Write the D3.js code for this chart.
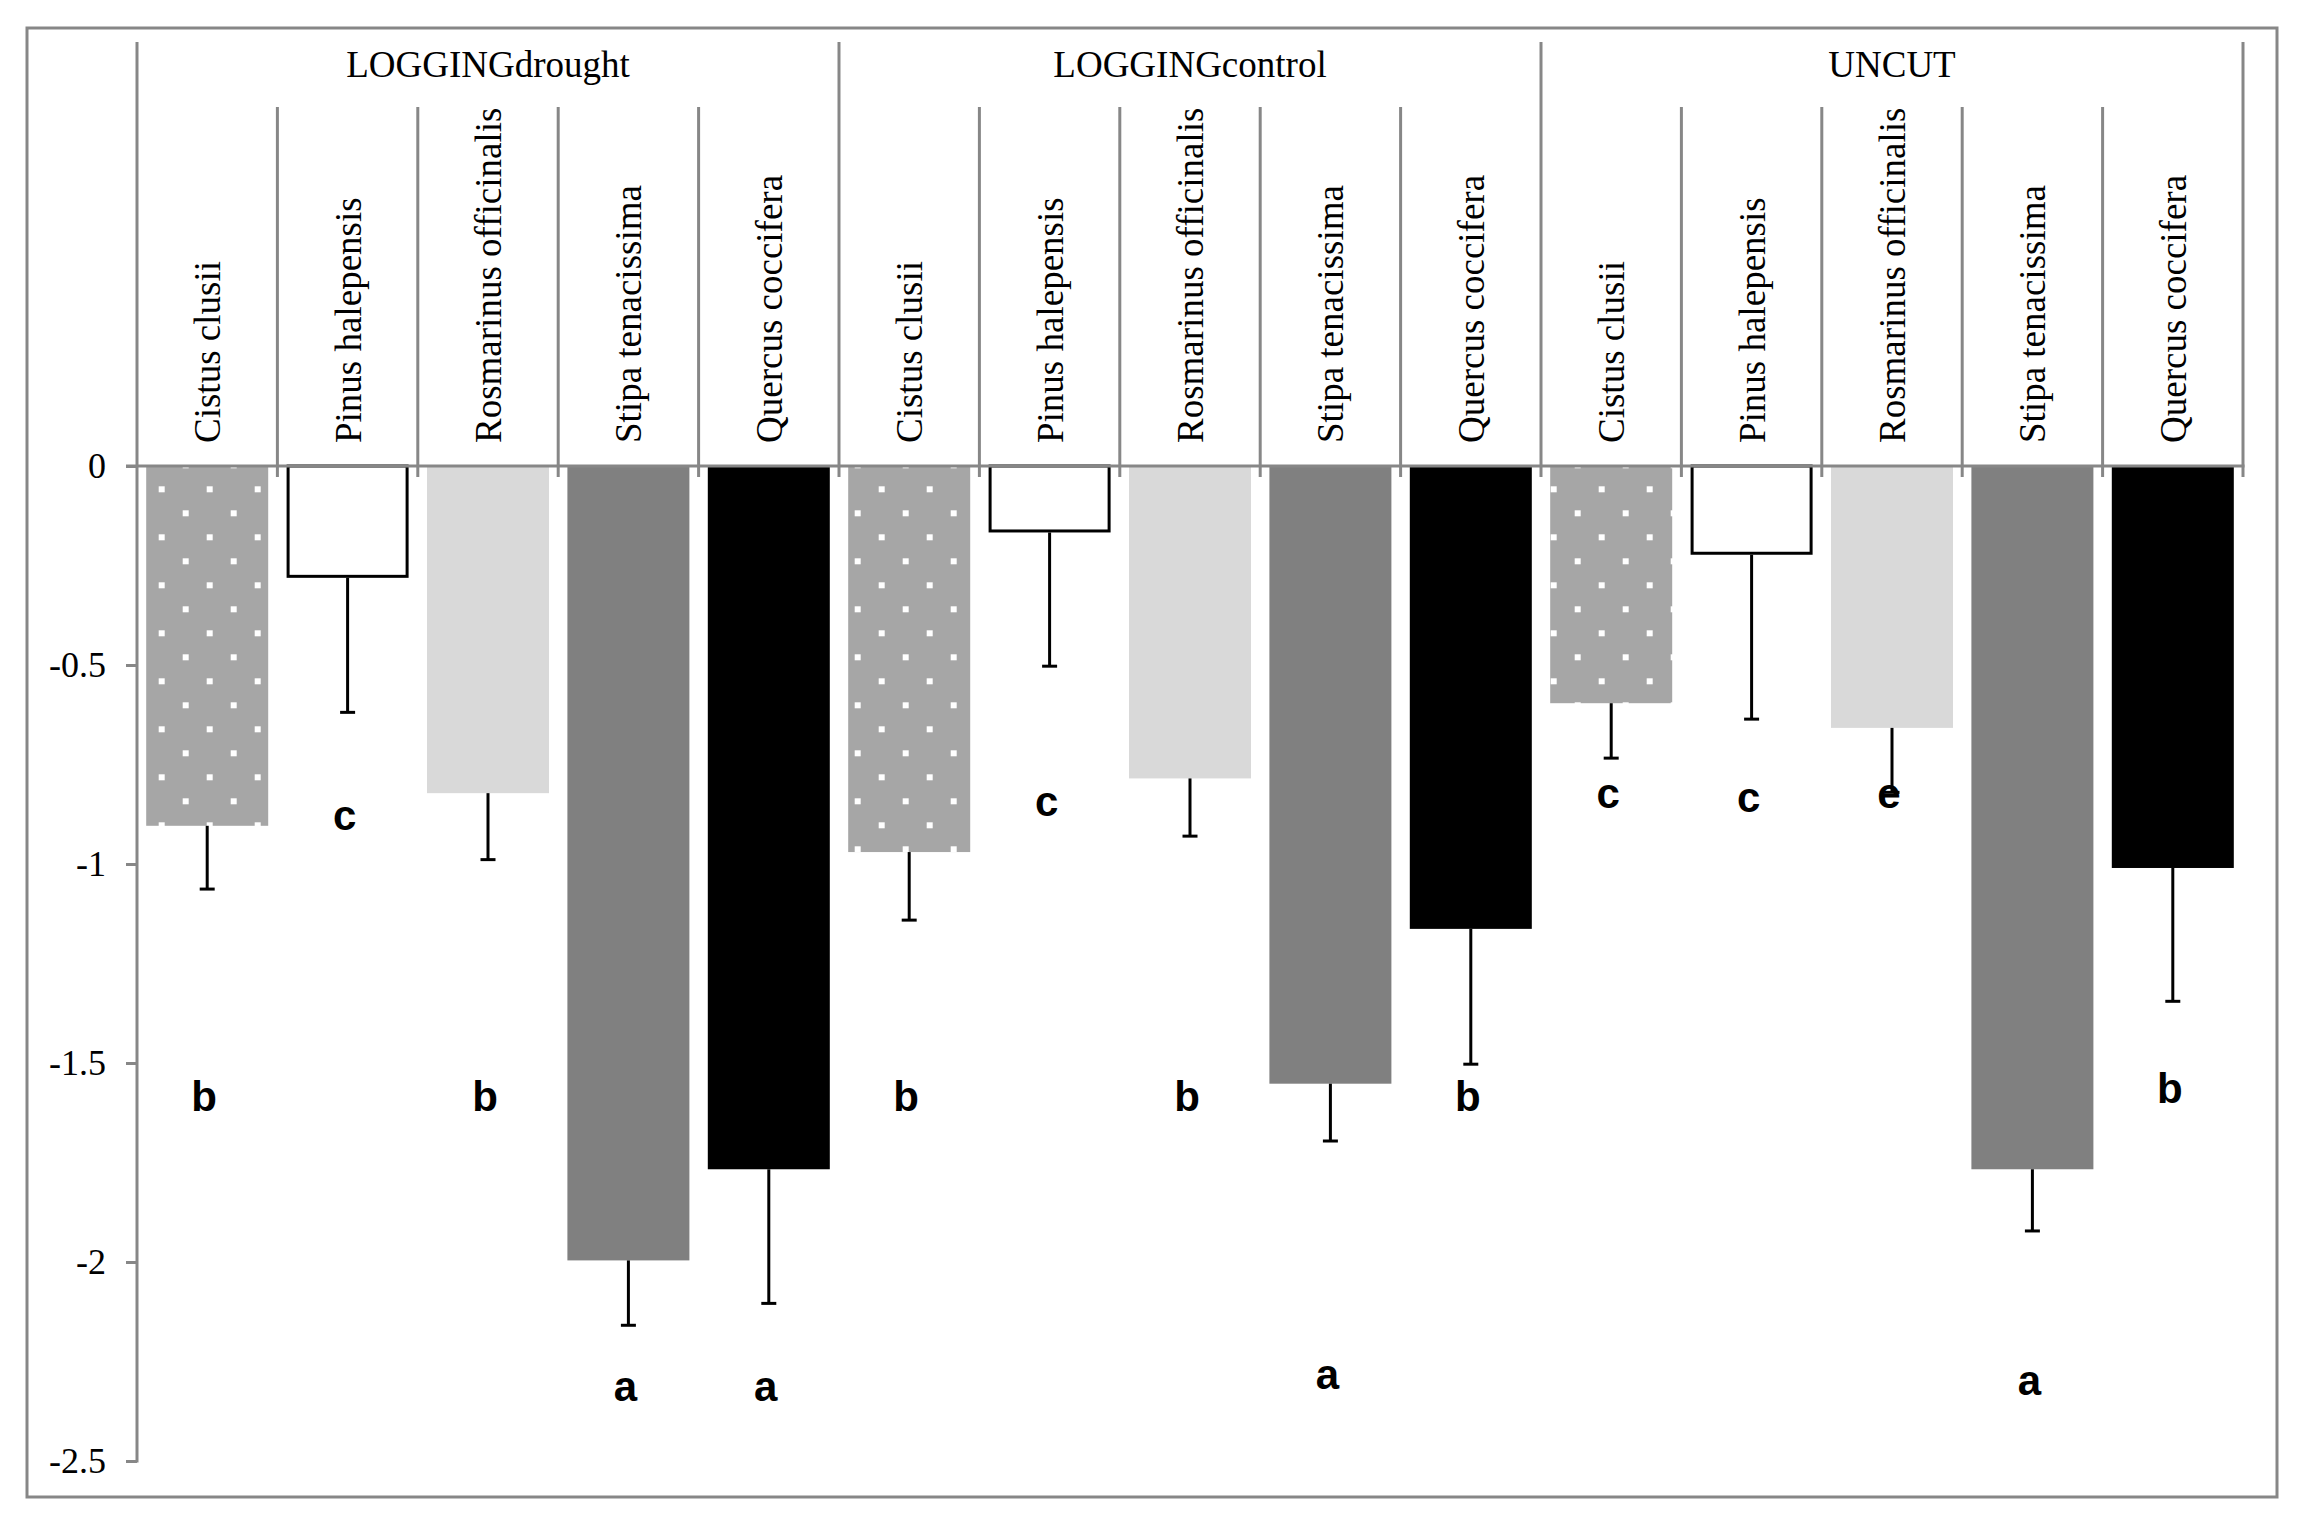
<!DOCTYPE html>
<html>
<head>
<meta charset="utf-8">
<script src="https://cdn.jsdelivr.net/npm/d3@7/dist/d3.min.js"></script>
<style>
  html, body { margin: 0; padding: 0; background: #ffffff; }
  svg { display: block; }
</style>
</head>
<body>
<svg id="chart" width="2313" height="1532"></svg>
<script>
// ---------------- DATA ----------------
const groups = ["LOGGINGdrought", "LOGGINGcontrol", "UNCUT"];
const species = ["Cistus clusii", "Pinus halepensis", "Rosmarinus officinalis", "Stipa tenacissima", "Quercus coccifera"];

const meanLoggingDrought = [-0.904, -0.281, -0.822, -1.996, -1.767];
const meanLoggingControl = [-0.970, -0.167, -0.785, -1.552, -1.163];
const meanUncut          = [-0.596, -0.223, -0.658, -1.767, -1.010];

const seLoggingDrought = [0.159, 0.338, 0.167, 0.163, 0.337];
const seLoggingControl = [0.171, 0.336, 0.145, 0.144, 0.340];
const seUncut          = [0.138, 0.413, 0.162, 0.155, 0.335];

const lettersLoggingDrought = ["b", "c", "b", "a", "a"];
const lettersLoggingControl = ["b", "c", "b", "a", "b"];
const lettersUncut          = ["c", "c", "e", "a", "b"];
// value (y) at which each significance letter sits (baseline)
const letterYLoggingDrought = [-1.62, -0.915, -1.62, -2.35, -2.35];
const letterYLoggingControl = [-1.62, -0.88, -1.62, -2.32, -1.62];
const letterYUncut          = [-0.86, -0.87, -0.86, -2.334, -1.60];

const yTickValues = [0, -0.5, -1, -1.5, -2, -2.5];
const yTickLabels = ["0", "-0.5", "-1", "-1.5", "-2", "-2.5"];

// ---------------- BUILD TABLE ----------------
const means = [meanLoggingDrought, meanLoggingControl, meanUncut];
const ses = [seLoggingDrought, seLoggingControl, seUncut];
const letters = [lettersLoggingDrought, lettersLoggingControl, lettersUncut];
const letterYs = [letterYLoggingDrought, letterYLoggingControl, letterYUncut];

const rows = [];
groups.forEach((g, gi) => {
  species.forEach((s, si) => {
    rows.push({
      key: gi * species.length + si,
      group: g, gi, species: s, si,
      value: means[gi][si], se: ses[gi][si],
      letter: letters[gi][si], letterY: letterYs[gi][si]
    });
  });
});

// ---------------- STYLE ----------------
const fills = ["url(#dots)", "#ffffff", "#d9d9d9", "#808080", "#000000"];
const gridColor = "#878787";
const serif = "'Liberation Serif', 'Times New Roman', Times, serif";
const sans = "'Liberation Sans', Arial, Helvetica, sans-serif";

const svg = d3.select("#chart");
const W = 2313, H = 1532;
svg.append("rect").attr("x", 0).attr("y", 0).attr("width", W).attr("height", H).attr("fill", "#fff");

const plot = { left: 137, right: 2243, zeroY: 466, bottomY: 1461 };

const x = d3.scaleBand()
  .domain(rows.map(d => d.key))
  .range([plot.left, plot.right])
  .paddingInner(0.131)
  .paddingOuter(0.0655);

const y = d3.scaleLinear().domain([-2.5, 0]).range([plot.bottomY, plot.zeroY]);

const step = x.step();
const slotStart = k => x(k) - step * x.paddingOuter();

// pattern for Cistus
const defs = svg.append("defs");
const pat = defs.append("pattern")
  .attr("id", "dots")
  .attr("patternUnits", "userSpaceOnUse")
  .attr("width", 48).attr("height", 48);
pat.append("rect").attr("width", 48).attr("height", 48).attr("fill", "#a6a6a6");
pat.append("rect").attr("x", 14.7).attr("y", 6.3).attr("width", 6).attr("height", 6).attr("fill", "#ffffff");
pat.append("rect").attr("x", 38.7).attr("y", 30.3).attr("width", 6).attr("height", 6).attr("fill", "#ffffff");

// outer frame
svg.append("rect")
  .attr("x", 27).attr("y", 28).attr("width", 2277 - 27).attr("height", 1497 - 28)
  .attr("fill", "none").attr("stroke", gridColor).attr("stroke-width", 3);

// bars
svg.append("g").selectAll("rect")
  .data(rows)
  .join("rect")
  .attr("x", d => x(d.key) + (d.si === 1 ? 1.5 : 0))
  .attr("width", d => x.bandwidth() - (d.si === 1 ? 3 : 0))
  .attr("y", y(0))
  .attr("height", d => y(d.value) - y(0) - (d.si === 1 ? 1.5 : 0))
  .attr("fill", d => fills[d.si])
  .attr("stroke", d => d.si === 1 ? "#000" : "none")
  .attr("stroke-width", 3);

// error bars
const eb = svg.append("g").attr("stroke", "#000").attr("stroke-width", 3);
eb.selectAll("line.v")
  .data(rows)
  .join("line")
  .attr("class", "v")
  .attr("x1", d => x(d.key) + x.bandwidth() / 2)
  .attr("x2", d => x(d.key) + x.bandwidth() / 2)
  .attr("y1", d => y(d.value))
  .attr("y2", d => y(d.value - d.se));
eb.selectAll("line.cap")
  .data(rows)
  .join("line")
  .attr("class", "cap")
  .attr("x1", d => x(d.key) + x.bandwidth() / 2 - 7.5)
  .attr("x2", d => x(d.key) + x.bandwidth() / 2 + 7.5)
  .attr("y1", d => y(d.value - d.se))
  .attr("y2", d => y(d.value - d.se));

// y axis
const yAxis = d3.axisLeft(y)
  .tickValues(yTickValues)
  .tickFormat((d, i) => yTickLabels[i])
  .tickSize(11)
  .tickPadding(20);
const ya = svg.append("g").attr("transform", `translate(${plot.left},0)`).call(yAxis);
ya.attr("font-family", null).attr("font-size", null);
ya.select(".domain").remove();
ya.selectAll(".tick line").attr("stroke", gridColor).attr("stroke-width", 3);
ya.selectAll(".tick text")
  .attr("fill", "#000")
  .style("font-family", serif)
  .style("font-size", "36px")
  .attr("dy", "0.33em");
ya.append("line")
  .attr("x1", 0).attr("x2", 0)
  .attr("y1", 42).attr("y2", y(-2.5) + 1.5)
  .attr("stroke", gridColor).attr("stroke-width", 3);

// category separators (multi-level axis)
const sep = svg.append("g").attr("stroke", gridColor).attr("stroke-width", 3);
rows.forEach(d => {
  if (d.si === 0 && d.gi === 0) return;
  const xs = slotStart(d.key);
  sep.append("line")
    .attr("x1", xs).attr("x2", xs)
    .attr("y1", d.si === 0 ? 42 : 107)
    .attr("y2", y(0) + 11);
});
sep.append("line")
  .attr("x1", plot.right).attr("x2", plot.right)
  .attr("y1", 42).attr("y2", y(0) + 11);
sep.append("line")
  .attr("x1", plot.left - 11).attr("x2", plot.right + 1.5)
  .attr("y1", y(0)).attr("y2", y(0));

// group labels
svg.append("g").selectAll("text")
  .data(groups)
  .join("text")
  .attr("x", (g, gi) => {
    const a = slotStart(gi * species.length);
    const b = a + step * species.length;
    return (a + b) / 2;
  })
  .attr("y", 77)
  .attr("text-anchor", "middle")
  .style("font-family", serif)
  .style("font-size", "37px")
  .attr("fill", "#000")
  .text(g => g);

// species labels (rotated)
svg.append("g").selectAll("text")
  .data(rows)
  .join("text")
  .attr("transform", d => `translate(${x(d.key) + x.bandwidth() / 2 + 13},${443}) rotate(-90)`)
  .attr("text-anchor", "start")
  .style("font-family", serif)
  .style("font-size", "37px")
  .attr("fill", "#000")
  .text(d => d.species);

// significance letters
svg.append("g").selectAll("text")
  .data(rows)
  .join("text")
  .attr("x", d => x(d.key) + x.bandwidth() / 2 - 3)
  .attr("y", d => y(d.letterY))
  .attr("text-anchor", "middle")
  .style("font-family", sans)
  .style("font-weight", "bold")
  .style("font-size", "42px")
  .attr("fill", "#000")
  .text(d => d.letter);
</script>
</body>
</html>
